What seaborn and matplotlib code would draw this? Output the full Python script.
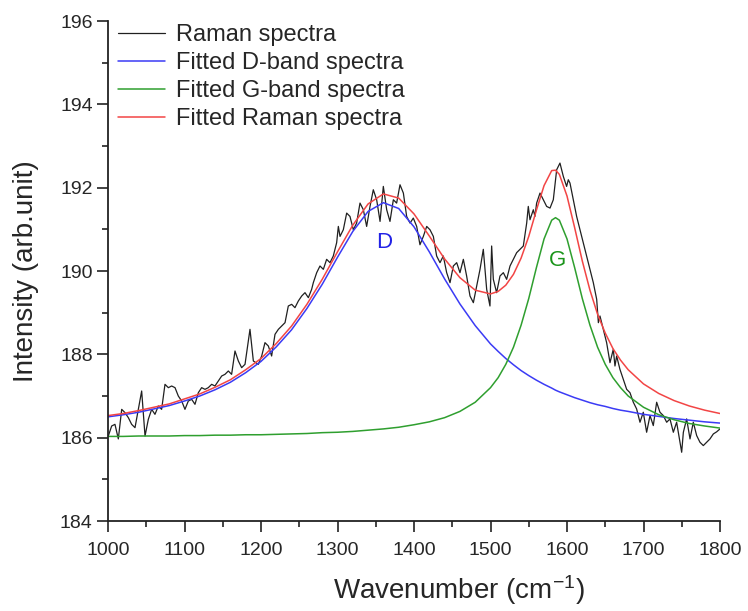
"""
Raman spectrum with fitted D and G bands
"""
import matplotlib
matplotlib.use('Agg')
import matplotlib.pyplot as plt
from matplotlib.ticker import MultipleLocator, AutoMinorLocator
import seaborn as sns

spec_x = [1000.4, 1004.8, 1009.1, 1013.5, 1017.9, 1022.2, 1026.6, 1030.9, 1035.3, 1039.6,
          1044.0, 1048.4, 1052.7, 1057.1, 1061.4, 1065.8, 1070.1, 1074.5, 1078.9, 1083.2,
          1087.6, 1091.9, 1096.3, 1100.6, 1105.0, 1109.4, 1113.7, 1118.1, 1122.4, 1126.8,
          1131.1, 1135.5, 1139.8, 1144.2, 1148.6, 1152.9, 1157.3, 1161.6, 1166.0, 1170.4,
          1174.7, 1179.1, 1185.6, 1190.0, 1196.5, 1200.9, 1205.2, 1209.6, 1213.9, 1218.3,
          1222.7, 1227.0, 1231.4, 1235.7, 1240.1, 1244.4, 1248.8, 1253.2, 1257.5, 1261.9,
          1266.2, 1268.4, 1272.8, 1277.1, 1281.5, 1285.8, 1290.2, 1294.5, 1298.9, 1301.1,
          1303.3, 1307.6, 1312.0, 1316.3, 1320.7, 1325.0, 1329.4, 1333.8, 1338.1, 1342.5,
          1346.8, 1351.2, 1355.6, 1359.9, 1364.3, 1368.6, 1373.0, 1377.3, 1381.7, 1386.1,
          1390.4, 1394.8, 1399.1, 1403.5, 1407.8, 1412.2, 1416.6, 1420.9, 1425.3, 1429.6,
          1434.0, 1438.3, 1442.7, 1447.1, 1451.4, 1455.8, 1460.1, 1464.5, 1468.8, 1473.2,
          1477.6, 1481.9, 1486.3, 1490.6, 1495.0, 1499.3, 1501.5, 1503.7, 1508.0, 1512.4,
          1516.8, 1521.1, 1525.5, 1529.8, 1534.2, 1538.5, 1542.9, 1547.3, 1549.4, 1551.6,
          1556.0, 1558.1, 1560.3, 1564.7, 1569.0, 1573.4, 1577.8, 1582.1, 1586.5, 1590.8,
          1595.2, 1599.5, 1601.7, 1603.9, 1608.3, 1612.6, 1617.0, 1621.3, 1625.7, 1630.0,
          1634.4, 1638.8, 1641.0, 1643.1, 1647.5, 1651.8, 1656.2, 1660.5, 1662.7, 1664.9,
          1669.2, 1673.6, 1678.0, 1682.3, 1686.7, 1691.0, 1695.4, 1699.7, 1704.1, 1708.5,
          1712.8, 1717.2, 1721.5, 1725.9, 1730.3, 1734.6, 1739.0, 1743.3, 1747.7, 1749.9,
          1752.1, 1756.4, 1760.8, 1765.1, 1769.5, 1773.8, 1778.2, 1782.6, 1786.9, 1791.3,
          1795.6, 1800.0]
spec_y = [186.04, 186.28, 186.32, 185.97, 186.68, 186.60, 186.48, 186.32, 186.24, 186.68,
          187.12, 186.04, 186.44, 186.68, 186.56, 186.76, 186.68, 187.28, 187.20, 187.24,
          187.20, 187.00, 186.88, 186.68, 186.88, 186.92, 186.80, 187.08, 187.20, 187.16,
          187.20, 187.28, 187.24, 187.36, 187.48, 187.52, 187.60, 187.52, 188.08, 187.84,
          187.68, 187.76, 188.60, 187.84, 187.76, 187.96, 188.28, 188.20, 187.96, 188.48,
          188.60, 188.68, 188.76, 189.16, 189.20, 189.12, 189.28, 189.40, 189.48, 189.36,
          189.56, 189.72, 189.96, 190.12, 190.04, 190.28, 190.20, 190.36, 190.68, 191.07,
          190.83, 190.99, 191.39, 191.31, 190.99, 191.15, 191.63, 191.47, 191.07, 191.55,
          191.95, 191.71, 191.19, 192.03, 191.47, 191.19, 191.71, 191.63, 192.07, 191.87,
          191.31, 191.15, 191.27, 191.07, 190.63, 190.83, 191.07, 190.99, 190.83, 190.36,
          190.20, 190.36, 189.96, 189.72, 190.12, 190.20, 189.96, 190.28, 189.88, 189.40,
          189.24, 189.64, 190.04, 190.52, 189.56, 189.16, 190.60, 189.80, 189.48, 189.88,
          189.96, 189.80, 190.12, 190.28, 190.44, 190.52, 190.60, 191.15, 191.55, 191.23,
          191.47, 191.31, 191.63, 191.87, 191.71, 191.55, 191.51, 191.71, 192.43, 192.59,
          192.27, 192.03, 192.19, 192.11, 191.71, 191.31, 190.99, 190.68, 190.36, 190.04,
          189.72, 189.32, 188.76, 188.92, 188.60, 188.28, 187.80, 188.12, 187.72, 187.96,
          187.64, 187.40, 187.16, 187.08, 186.85, 186.69, 186.37, 186.61, 186.13, 186.53,
          186.29, 186.85, 186.61, 186.53, 186.37, 186.45, 186.13, 186.37, 185.89, 185.65,
          186.13, 186.45, 185.97, 186.37, 186.05, 185.89, 185.81, 185.89, 185.97, 186.09,
          186.14, 186.21]

# fitted curves
fit_x = [1000, 1020, 1040, 1060, 1080, 1100, 1120, 1140, 1160, 1180,
         1200, 1220, 1240, 1260, 1280, 1300, 1320, 1340, 1360, 1380,
         1400, 1420, 1440, 1460, 1480, 1500, 1510, 1520, 1530, 1540,
         1550, 1560, 1570, 1580, 1585, 1590, 1600, 1610, 1620, 1630,
         1640, 1650, 1660, 1670, 1680, 1700, 1720, 1740, 1760, 1780, 1800]
d_band = [186.50, 186.55, 186.61, 186.69, 186.77, 186.88, 187.00, 187.15, 187.33, 187.56,
          187.83, 188.18, 188.59, 189.10, 189.68, 190.33, 190.95, 191.43, 191.64, 191.50,
          191.06, 190.46, 189.81, 189.21, 188.69, 188.25, 188.07, 187.90, 187.75, 187.61,
          187.49, 187.38, 187.28, 187.19, 187.14, 187.10, 187.03, 186.96, 186.90, 186.84,
          186.79, 186.75, 186.70, 186.66, 186.63, 186.56, 186.51, 186.46, 186.42, 186.38, 186.35]
g_band = [186.03, 186.03, 186.04, 186.04, 186.04, 186.05, 186.05, 186.06, 186.06, 186.07,
          186.07, 186.08, 186.09, 186.10, 186.12, 186.13, 186.15, 186.18, 186.21, 186.25,
          186.31, 186.38, 186.48, 186.63, 186.85, 187.20, 187.44, 187.76, 188.17, 188.70,
          189.34, 190.08, 190.77, 191.22, 191.28, 191.22, 190.77, 190.08, 189.34, 188.70,
          188.17, 187.76, 187.44, 187.20, 187.00, 186.73, 186.55, 186.43, 186.34, 186.28, 186.23]
fit_sum = [186.53, 186.58, 186.65, 186.73, 186.81, 186.93, 187.05, 187.21, 187.39, 187.63,
           187.90, 188.26, 188.68, 189.20, 189.80, 190.46, 191.10, 191.61, 191.85, 191.75,
           191.37, 190.84, 190.29, 189.84, 189.54, 189.45, 189.51, 189.66, 189.92, 190.31,
           190.83, 191.46, 192.05, 192.41, 192.42, 192.32, 191.80, 191.04, 190.24, 189.54,
           188.96, 188.51, 188.14, 187.86, 187.63, 187.29, 187.06, 186.89, 186.76, 186.66, 186.58]

peak_names = ['D', 'G']
peak_x = [1361, 1587]
peak_y = [190.68, 190.25]

sns.set_style('ticks')
plt.rcParams['font.family'] = ['Liberation Sans', 'DejaVu Sans']
plt.rcParams['mathtext.fontset'] = 'custom'
plt.rcParams['mathtext.rm'] = 'Liberation Sans'
plt.rcParams['mathtext.default'] = 'regular'

fig = plt.figure(figsize=(7.48, 6.11), dpi=100)
ax = fig.add_axes([108 / 748, 90 / 611, 612 / 748, 500 / 611])

line_kw = dict(ax=ax, sort=False, estimator=None)
sns.lineplot(x=spec_x, y=spec_y, color='#202020', linewidth=0.9,
             label='Raman spectra', **line_kw)
sns.lineplot(x=fit_x, y=d_band, color='#3b3bf5', linewidth=1.1,
             label='Fitted D-band spectra', **line_kw)
sns.lineplot(x=fit_x, y=g_band, color='#2f9f2f', linewidth=1.1,
             label='Fitted G-band spectra', **line_kw)
sns.lineplot(x=fit_x, y=fit_sum, color='#f24545', linewidth=1.1,
             label='Fitted Raman spectra', **line_kw)

for name, px, py, col in zip(peak_names, peak_x, peak_y, ['#2222e6', '#1a941a']):
    ax.text(px, py, name, color=col, fontsize=16, ha='center', va='center')

ax.set_xlim(1000, 1800)
ax.set_ylim(184, 196)
ax.xaxis.set_major_locator(MultipleLocator(100))
ax.yaxis.set_major_locator(MultipleLocator(2))
ax.xaxis.set_minor_locator(AutoMinorLocator(2))
ax.yaxis.set_minor_locator(AutoMinorLocator(2))
ax.tick_params(axis='both', which='major', direction='out', length=8, width=1.2,
               labelsize=14, color='#222222')
ax.tick_params(axis='x', which='major', pad=7)
ax.tick_params(axis='y', which='major', pad=3)
ax.tick_params(axis='both', which='minor', direction='out', length=4, width=1.2,
               color='#222222')
sns.despine(ax=ax)
for side in ['left', 'bottom']:
    ax.spines[side].set_linewidth(1.3)
    ax.spines[side].set_color('#222222')

ax.set_xlabel('Wavenumber (cm$^{-1}$)', fontsize=20)
ax.set_ylabel('Intensity (arb.unit)', fontsize=20)
ax.xaxis.set_label_coords(0.573, -0.105)
ax.yaxis.set_label_coords(-0.112, 0.5)

ax.legend(loc='upper left', bbox_to_anchor=(0.016, 0.994), frameon=False,
          fontsize=17, handlelength=2.0, handletextpad=0.47, labelspacing=0.26,
          borderpad=0, borderaxespad=0)

fig.savefig('out.png', dpi=100)
